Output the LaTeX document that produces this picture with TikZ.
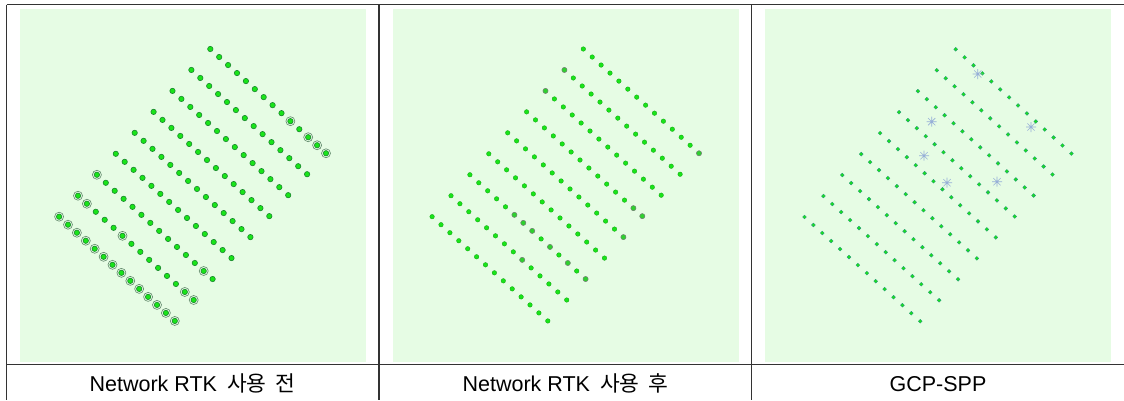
\documentclass[tikz,border=0pt]{standalone}
\usepackage{fontspec}
\setmainfont{Liberation Sans}
\newfontfamily\krfont{Noto Sans CJK KR}
\usetikzlibrary{positioning}

\definecolor{panelgreen}{RGB}{230,252,228}
\definecolor{dotgreen}{RGB}{25,228,25}
\definecolor{dotedge}{RGB}{25,135,45}
\definecolor{ringgrey}{RGB}{95,135,105}
\definecolor{dotblue}{RGB}{45,95,195}
\definecolor{gcpblue}{RGB}{150,175,215}

\tikzset{
  panel/.style={fill=panelgreen, draw=none},
  rule/.style={draw=black!80, line width=1.2pt},
  ptA/.style={circle, inner sep=0pt, minimum size=5.4pt, fill=dotgreen, draw=dotedge, line width=0.6pt},
  ringA/.style={draw=ringgrey, line width=0.6pt},
  ptB/.style={circle, inner sep=0pt, minimum size=4.6pt, fill=dotgreen, draw=dotgreen!70!black, line width=0.3pt},
  ptBg/.style={ptB, minimum size=5.2pt, fill=dotgreen!80!gray, draw=gray, line width=0.5pt},
  ptC/.style={circle, inner sep=0pt, minimum size=3.8pt, fill=dotgreen, draw=dotblue!55!dotgreen, line width=0.4pt},
  gcpstar/.style={draw=gcpblue, line width=0.6pt},
  tabtext/.style={anchor=base, inner sep=0pt, font=\fontsize{21.5}{25}\selectfont},
  grid/.style={x={(8.9pt,-8.02pt)}, y={(-18.9pt,-20.96pt)}}
}

\begin{document}
\begin{tikzpicture}[x=1pt, y=-1pt]
\useasboundingbox (0,0) rectangle (1124,400);
\fill[white] (0,0) rectangle (1124,400);

\fill[panel] (20,9) rectangle (366,362);
\fill[panel] (393,9) rectangle (739,362);
\fill[panel] (765,9) rectangle (1111,362);

\begin{scope}[shift={(210.3,49)}, grid]
\foreach \r in {0,...,8}
  \foreach \k in {0,...,13}
    \node[ptA] (a-\r-\k) at (\k,\r) {};
\foreach \k in {0,...,13}
  \draw[ringA] (a-8-\k) circle (4.5pt);
\foreach \r/\k in {7/0,7/1,7/5,7/12,7/13,6/0,6/12,0/9,0/11,0/12,0/13}
  \draw[ringA] (a-\r-\k) circle (4.5pt);
\end{scope}

\begin{scope}[shift={(583.3,49)}, grid]
\foreach \r in {0,...,8}
  \foreach \k in {0,...,13}
    \node[ptB] (b-\r-\k) at (\k,\r) {};
\foreach \r/\k in {1/0,2/0,0/13,3/12,3/13,4/13,6/5,6/6,6/7,6/9,6/11,6/13,7/8}
  \node[ptBg] (bg-\r-\k) at (b-\r-\k) {};
\end{scope}

\begin{scope}[shift={(955.7,49.3)}, grid]
\foreach \r in {0,...,8}
  \foreach \k in {0,...,13}
    \node[ptC] (c-\r-\k) at (\k,\r) {};
\end{scope}

\foreach \n/\px/\py in {1/977.7/74, 2/931.7/121.7, 3/1031/127, 4/924/155.7, 5/947/182.7, 6/997/181.7}{
  \coordinate (gcp\n) at (\px,\py);
  \draw[gcpstar] (gcp\n) +(-5,0) -- +(5,0) +(0,-5) -- +(0,5)
    +(-3.6,-3.6) -- +(3.6,3.6) +(-3.6,3.6) -- +(3.6,-3.6);
}

\draw[rule] (6.5,4.5) -- (1124,4.5);
\draw[rule] (6.5,364.5) -- (1124,364.5);
\draw[rule] (6.5,4.5) -- (6.5,400);
\draw[rule] (379,4.5) -- (379,400);
\draw[rule] (751.7,4.5) -- (751.7,400);

\node[tabtext] (capA) at (192.5,391) {Network RTK\hspace{10pt}{\krfont 사용}\hspace{9pt}{\krfont 전}};
\node[tabtext] (capB) at (565.5,391) {Network RTK\hspace{10pt}{\krfont 사용}\hspace{9pt}{\krfont 후}};
\node[tabtext] (capC) at (938,391) {GCP-SPP};
\end{tikzpicture}
\end{document}
